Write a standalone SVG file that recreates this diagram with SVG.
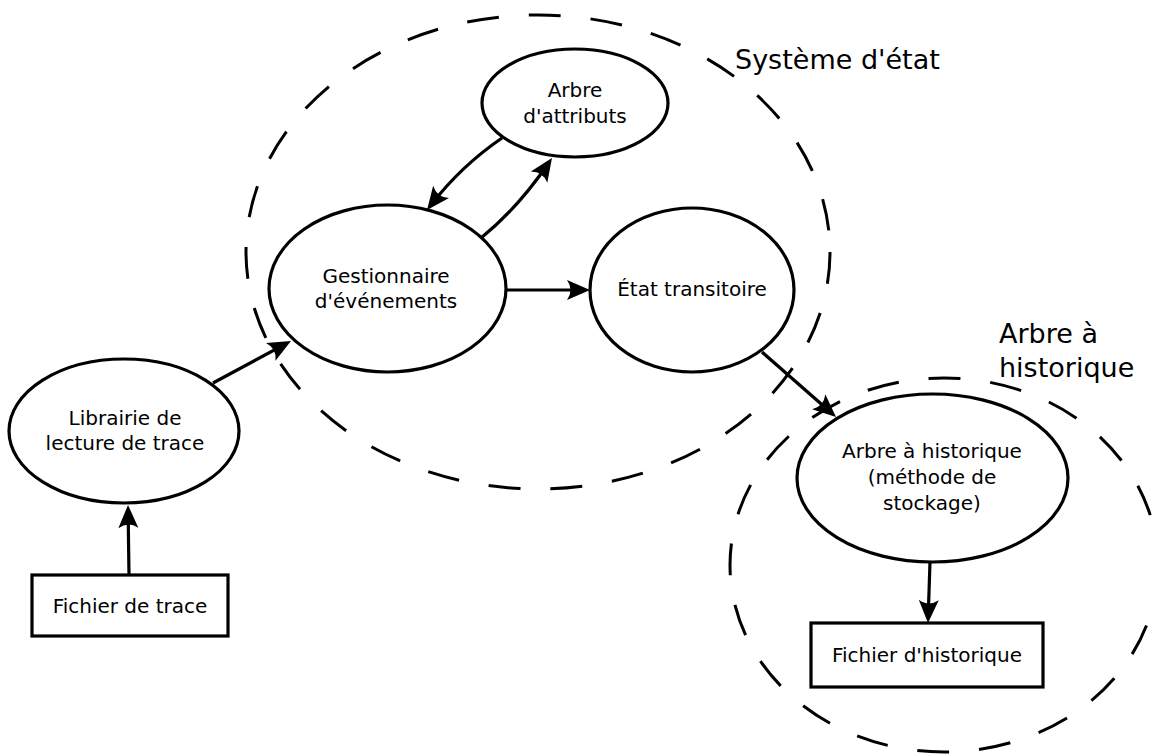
<svg xmlns="http://www.w3.org/2000/svg" width="1153" height="756" viewBox="0 0 1153 756">
<style>
  .zone { fill: none; stroke: #000; stroke-width: 3; stroke-dasharray: 32 30; }
  .node { fill: #fff; stroke: #000; stroke-width: 3.2; }
  .edge { fill: none; stroke: #000; stroke-width: 3.2; marker-end: url(#arrow); }
  text { font-family: "DejaVu Sans", "Liberation Sans", sans-serif; fill: #000; }
  .t { font-size: 20px; text-anchor: middle; }
  .big { font-size: 27px; }
</style>
<defs>
  <marker id="arrow" markerUnits="userSpaceOnUse" refX="0" refY="0" markerWidth="40" markerHeight="40" orient="auto" overflow="visible">
    <path d="M6,0 L-17,-10 Q-10,0 -17,10 Z" fill="#000"/>
  </marker>
</defs>
<rect width="1153" height="756" fill="#fff"/>
<g id="zones">
  <ellipse id="zone-systeme" class="zone" cx="538" cy="252" rx="292" ry="237"/>
  <ellipse id="zone-arbre" class="zone" cx="944" cy="565" rx="214" ry="187"/>
</g>
<g id="labels">
  <text class="big" x="735" y="69">Système d'état</text>
  <text class="big" x="999" y="343">Arbre à</text>
  <text class="big" x="999" y="377">historique</text>
</g>
<g id="connectors">
  <path class="edge" d="M129,575 L128.1,511"/>
  <path class="edge" d="M213,383 L285.7,343.8"/>
  <path class="edge" d="M506,290 L584,290"/>
  <path class="edge" d="M502,138 Q461,166 430.7,205.3"/>
  <path class="edge" d="M481,238 Q518,208 548.6,163"/>
  <path class="edge" d="M762,352 L831.5,413"/>
  <path class="edge" d="M930,562 L928.2,617"/>
</g>
<g id="node-attributs">
  <ellipse class="node" cx="575" cy="103" rx="93" ry="54"/>
  <text class="t" x="575" y="97">Arbre</text>
  <text class="t" x="575" y="123">d'attributs</text>
</g>
<g id="node-gestionnaire">
  <ellipse class="node" cx="387.5" cy="288.5" rx="118.5" ry="83.5"/>
  <text class="t" x="386" y="283">Gestionnaire</text>
  <text class="t" x="386" y="308">d'événements</text>
</g>
<g id="node-etat">
  <ellipse class="node" cx="692" cy="290" rx="102" ry="82"/>
  <text class="t" x="692" y="296">État transitoire</text>
</g>
<g id="node-librairie">
  <ellipse class="node" cx="124" cy="431" rx="115" ry="72"/>
  <text class="t" x="125" y="425">Librairie de</text>
  <text class="t" x="125" y="450">lecture de trace</text>
</g>
<g id="node-fichier-trace">
  <rect class="node" x="32" y="575" width="196" height="61"/>
  <text class="t" x="130" y="613">Fichier de trace</text>
</g>
<g id="node-arbre-historique">
  <ellipse class="node" cx="932.5" cy="478" rx="135.5" ry="84"/>
  <text class="t" x="932" y="458">Arbre à historique</text>
  <text class="t" x="932" y="484">(méthode de</text>
  <text class="t" x="932" y="510">stockage)</text>
</g>
<g id="node-fichier-historique">
  <rect class="node" x="811" y="623" width="232" height="64"/>
  <text class="t" x="927" y="662">Fichier d'historique</text>
</g>
</svg>
